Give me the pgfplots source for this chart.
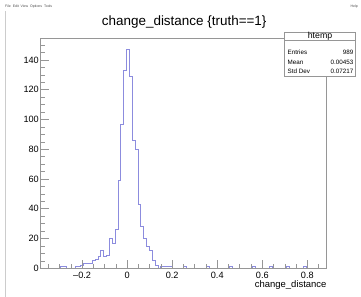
\documentclass[border=0pt]{standalone}
\usepackage{fontspec}
\setmainfont{Liberation Sans}
\usepackage{pgfplots}
\pgfplotsset{compat=1.18}
\definecolor{histc}{RGB}{140,140,222}
\definecolor{axc}{RGB}{150,150,150}
\begin{document}
\begin{tikzpicture}
\useasboundingbox (0,0) rectangle (361bp,297bp);
\fill[white] (0,0) rectangle (361bp,297bp);
% window decorations
\draw[black!20, line width=0.6bp] (5bp,0bp) -- (5bp,286bp);
\node[anchor=base west, inner sep=0pt, font=\fontsize{3.5}{4}\selectfont, text=black!70] at (5bp,289.5bp) {File\ \ Edit\ \ View\ \ Options\ \ Tools};
\node[anchor=base east, inner sep=0pt, font=\fontsize{3.5}{4}\selectfont, text=black!70] at (358bp,289.5bp) {Help};
\begin{axis}[
  at={(40.7bp,28.7bp)}, anchor=south west,
  scale only axis, width=286bp, height=230.3bp,
  xmin=-0.384, xmax=0.886, ymin=0, ymax=154.8,
  axis on top,
  axis line style={draw=axc, line width=0.6bp},
  tick style={draw=axc, line width=0.6bp},
  tick align=inside, tick pos=left,
  major tick length=8bp, minor tick length=4bp,
  xtick={-0.2,0,0.2,0.4,0.6,0.8},
  minor xtick={-0.35,-0.3,-0.25,-0.15,-0.1,-0.05,0.05,0.1,0.15,0.25,0.3,0.35,0.45,0.5,0.55,0.65,0.7,0.75,0.85},
  ytick={0,20,40,60,80,100,120,140},
  minor ytick={5,10,15,25,30,35,45,50,55,65,70,75,85,90,95,105,110,115,125,130,135,145,150},
  /pgf/number format/assume math mode=true,
  xticklabels={\textendash0.2,0,0.2,0.4,0.6,0.8},
  ticklabel style={font=\fontsize{9.2}{9.2}\selectfont},
  xticklabel style={anchor=base, inner sep=0pt, yshift=-10.3bp},
  yticklabel style={anchor=east, inner sep=0pt, xshift=-1.7bp},
  xlabel={change\_distance},
  xlabel style={at={(axis description cs:1,0)}, anchor=base east, inner sep=0pt, yshift=-19bp, font=\fontsize{9.5}{9.5}\selectfont},
]
\addplot[const plot, draw=histc, line width=0.75bp] coordinates {
(-0.3840,0) (-0.3713,0) (-0.3586,0) (-0.3459,0) (-0.3332,0) (-0.3205,0) (-0.3078,0) (-0.2951,1) (-0.2824,1) (-0.2697,0)
(-0.2570,0) (-0.2443,0) (-0.2316,1) (-0.2189,1) (-0.2062,2) (-0.1935,3) (-0.1808,3) (-0.1681,3) (-0.1554,5) (-0.1427,6)
(-0.1300,8) (-0.1173,12) (-0.1046,8) (-0.0919,9) (-0.0792,20) (-0.0665,17) (-0.0538,26) (-0.0411,59) (-0.0284,97) (-0.0157,133)
(-0.0030,147) (0.0097,129) (0.0224,86) (0.0351,80) (0.0478,43) (0.0605,28) (0.0732,20) (0.0859,15) (0.0986,12) (0.1113,5)
(0.1240,2) (0.1367,0) (0.1494,1) (0.1621,1) (0.1748,1) (0.1875,1) (0.2002,0) (0.2129,0) (0.2256,0) (0.2383,0)
(0.2510,1) (0.2637,0) (0.2764,0) (0.2891,0) (0.3018,0) (0.3145,0) (0.3272,0) (0.3399,0) (0.3526,1) (0.3653,0)
(0.3780,0) (0.3907,0) (0.4034,0) (0.4161,0) (0.4288,0) (0.4415,0) (0.4542,1) (0.4669,0) (0.4796,0) (0.4923,0)
(0.5050,0) (0.5177,0) (0.5304,0) (0.5431,0) (0.5558,1) (0.5685,0) (0.5812,0) (0.5939,0) (0.6066,0) (0.6193,0)
(0.6320,1) (0.6447,0) (0.6574,0) (0.6701,0) (0.6828,0) (0.6955,0) (0.7082,1) (0.7209,0) (0.7336,0) (0.7463,0)
(0.7590,0) (0.7717,0) (0.7844,1) (0.7971,0) (0.8098,0) (0.8225,0) (0.8352,0) (0.8479,0) (0.8606,0) (0.8733,0)
(0.8860,0)
};
\end{axis}
% title
\node[anchor=base, inner sep=0pt, font=\fontsize{13.5}{13.5}\selectfont] at (184.2bp,271.5bp) {change\_distance \{truth==1\}};
% stats box
\draw[draw=axc, fill=white, line width=0.6bp] (284.3bp,220.3bp) rectangle (355.7bp,264.7bp);
\draw[draw=axc, line width=0.6bp] (284.3bp,256.3bp) -- (355.7bp,256.3bp);
\node[anchor=base, inner sep=0pt, font=\fontsize{8.8}{8.8}\selectfont] at (320bp,258.4bp) {htemp};
\begin{scope}[every node/.style={inner sep=0pt, font=\fontsize{6.3}{6.3}\selectfont}]
\node[anchor=base west] at (287.5bp,242.7bp) {Entries};
\node[anchor=base east] at (353.5bp,242.7bp) {989};
\node[anchor=base west] at (287.5bp,232.7bp) {Mean};
\node[anchor=base east] at (353.5bp,232.7bp) {0.00453};
\node[anchor=base west] at (287.5bp,223bp) {Std Dev};
\node[anchor=base east] at (353.5bp,223bp) {0.07217};
\end{scope}
\end{tikzpicture}
\end{document}
